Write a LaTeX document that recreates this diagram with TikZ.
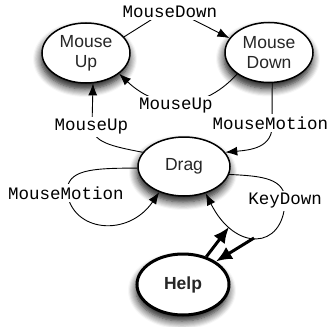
\documentclass[tikz,border=0pt]{standalone}
\usepackage{fontspec}
\setmainfont{Liberation Sans}
\newfontfamily\labmono{Liberation Mono}
\usetikzlibrary{arrows.meta,shapes.geometric,shadows.blur}
\begin{document}
\begin{tikzpicture}[x=1pt,y=-1pt,
  st/.style={ellipse, draw=black, line width=1.5pt, fill=white, inner sep=0pt,
    align=center, font=\fontsize{17.5}{20}\selectfont, text=black!85,
    blur shadow={shadow xshift=-1pt, shadow yshift=-6pt, shadow blur radius=8pt, shadow opacity=95, shadow blur steps=8}},
  lab/.style={fill=white, inner sep=2.5pt, font=\labmono\fontsize{17.5}{20}\selectfont},
  arr/.style={line width=0.9pt, -{Latex[length=12pt,width=9pt]}},
  tarr/.style={line width=3pt, -{Latex[length=16pt,width=14pt]}}]
\useasboundingbox (0,0) rectangle (328,326);
% states
\node[st, minimum width=88pt, minimum height=60pt] (mu) at (86,53) {Mouse\\Up};
\node[st, minimum width=88pt, minimum height=60pt] (md) at (269,52.5) {Mouse\\Down};
\node[st, minimum width=92pt, minimum height=59pt] (drag) at (184,166.5) {Drag};
\node[st, line width=3pt, minimum width=92pt, minimum height=61pt,
  font=\bfseries\fontsize{17.5}{20}\selectfont] (help) at (183,284.5) {Help};
% label points
\coordinate (k1) at (170,8);
\coordinate (k3) at (92,125);
\coordinate (k4) at (272,123);
\coordinate (k5) at (67,192);
\coordinate (k6) at (285,202);
\coordinate (kd1) at (229,227);
\coordinate (kd2) at (254,238);
% transitions
\draw[arr] (mu.23) -- (k1) -- (md.160);
\draw[arr] (md.214) .. controls (200,115) and (155,108) .. (mu.-32);
\draw[arr] (drag.161) .. controls (110,146) and (92,142) .. (k3) -- (mu.-77);
\draw[arr] (md.-84) -- (k4) .. controls (274,148) and (250,150) .. (drag.19);
\draw[arr] (drag.182) .. controls (90,168) and (67,170) .. (k5) .. controls (72,232) and (128,238) .. (drag.-134);
\draw[arr] (drag.-10) .. controls (262,176) and (286,178) .. (k6) .. controls (283,250) and (235,252) .. (drag.-51);
\draw[tarr] (help.50) -- (kd1);
\draw[tarr] (kd2) -- (help.35);
% labels
\node[lab] (l1) at (170,12) {MouseDown};
\node[lab] (l2) at (176,106) {MouseUp};
\node[lab] (l3) at (91.5,127) {MouseUp};
\node[lab] (l4) at (270.5,123) {MouseMotion};
\node[lab] (l5) at (66,193) {MouseMotion};
\node[lab] (l6) at (285,201) {KeyDown};
\end{tikzpicture}
\end{document}
